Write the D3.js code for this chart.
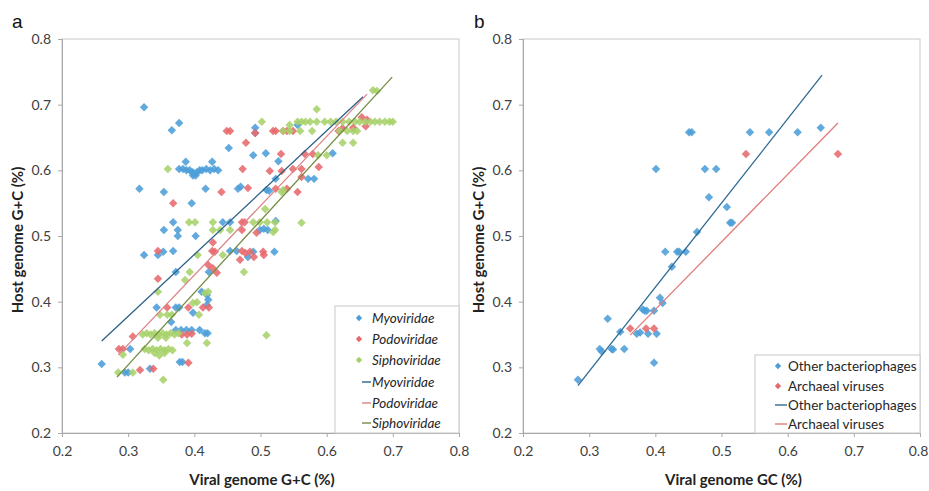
<!DOCTYPE html>
<html>
<head>
<meta charset="utf-8">
<script src="https://cdn.jsdelivr.net/npm/d3@7"></script>
<style>
  html, body { margin: 0; padding: 0; background: #fff; }
  svg { display: block; font-family: Lato, "Open Sans", sans-serif; }
</style>
</head>
<body>
<svg id="chart" width="929" height="491"></svg>
<script>
// ---------- DATA ----------
const tickValues = [0.2, 0.3, 0.4, 0.5, 0.6, 0.7, 0.8];

// Panel a – scatter points [viral G+C, host G+C]
const myoviridae = [
  [0.324,0.696],[0.366,0.661],[0.377,0.672],[0.452,0.634],[0.492,0.665],[0.492,0.657],[0.317,0.572],[0.354,0.567],
  [0.417,0.572],[0.396,0.550],[0.368,0.521],[0.354,0.509],[0.375,0.509],[0.375,0.500],[0.402,0.500],
  [0.377,0.602],[0.383,0.602],[0.388,0.600],[0.393,0.600],[0.397,0.597],[0.400,0.595],[0.404,0.597],
  [0.408,0.600],[0.412,0.600],[0.418,0.602],[0.424,0.600],[0.430,0.602],[0.436,0.600],[0.387,0.613],
  [0.427,0.613],[0.402,0.592],[0.398,0.592],
  [0.466,0.572],[0.470,0.575],[0.489,0.623],[0.508,0.626],[0.527,0.614],[0.523,0.587],[0.509,0.570],
  [0.513,0.569],[0.443,0.521],[0.454,0.521],[0.499,0.509],[0.505,0.511],[0.511,0.509],[0.523,0.523],
  [0.609,0.626],[0.572,0.587],[0.581,0.587],[0.556,0.669],
  [0.324,0.471],[0.345,0.471],[0.353,0.476],[0.368,0.477],[0.372,0.445],[0.343,0.391],[0.372,0.391],
  [0.377,0.391],[0.365,0.369],[0.398,0.383],[0.411,0.415],[0.419,0.410],[0.421,0.403],[0.419,0.395],
  [0.372,0.357],[0.380,0.357],[0.388,0.357],[0.396,0.357],[0.408,0.357],[0.416,0.352],[0.420,0.352],
  [0.378,0.308],[0.382,0.308],[0.260,0.305],[0.295,0.292],[0.300,0.292],[0.303,0.328],[0.333,0.298],
  [0.422,0.445],[0.454,0.477],[0.464,0.477],[0.481,0.468],[0.489,0.476],[0.521,0.476]
];
const podoviridae = [
  [0.449,0.660],[0.454,0.660],[0.492,0.657],[0.478,0.642],[0.519,0.660],[0.523,0.660],[0.534,0.660],
  [0.540,0.660],[0.549,0.660],[0.531,0.625],[0.514,0.599],[0.532,0.599],[0.473,0.602],[0.549,0.602],
  [0.562,0.590],[0.588,0.605],[0.567,0.625],[0.579,0.625],[0.562,0.602],[0.441,0.567],[0.481,0.573],
  [0.523,0.572],[0.540,0.572],[0.556,0.567],[0.368,0.550],[0.472,0.521],[0.476,0.521],[0.472,0.509],
  [0.494,0.505],[0.428,0.490],[0.618,0.660],[0.624,0.664],[0.653,0.681],[0.659,0.667],[0.661,0.677],
  [0.640,0.665],
  [0.345,0.477],[0.345,0.435],[0.427,0.477],[0.431,0.476],[0.421,0.456],[0.428,0.451],[0.434,0.444],
  [0.469,0.464],[0.472,0.477],[0.477,0.474],[0.484,0.476],[0.490,0.468],[0.504,0.476],[0.505,0.471],
  [0.359,0.391],[0.391,0.391],[0.413,0.391],[0.422,0.391],[0.307,0.347],[0.286,0.328],[0.292,0.328],
  [0.318,0.296],[0.338,0.298],[0.391,0.307],[0.381,0.350],[0.389,0.350],[0.396,0.351]
];
const siphoviridae = [
  [0.670,0.722],[0.676,0.721],[0.585,0.693],[0.502,0.674],
  [0.556,0.674],[0.562,0.674],[0.568,0.674],[0.575,0.674],[0.585,0.674],[0.597,0.674],[0.606,0.674],
  [0.614,0.674],[0.624,0.674],[0.634,0.674],[0.643,0.674],[0.650,0.674],[0.658,0.674],[0.666,0.674],
  [0.673,0.674],[0.680,0.674],[0.688,0.674],[0.695,0.674],[0.700,0.674],
  [0.534,0.660],[0.544,0.660],[0.560,0.660],[0.578,0.660],[0.620,0.660],[0.631,0.660],[0.640,0.660],
  [0.646,0.660],[0.544,0.669],[0.624,0.642],[0.640,0.642],[0.587,0.623],[0.600,0.623],[0.534,0.570],
  [0.360,0.602],[0.392,0.521],[0.401,0.521],[0.428,0.521],[0.428,0.509],[0.439,0.509],[0.454,0.509],
  [0.489,0.521],[0.499,0.521],[0.510,0.521],[0.522,0.521],[0.522,0.509],[0.507,0.541],[0.532,0.567],
  [0.562,0.520],[0.519,0.506],
  [0.405,0.471],[0.443,0.471],[0.475,0.445],[0.393,0.445],[0.386,0.433],[0.345,0.415],[0.404,0.399],
  [0.421,0.415],[0.416,0.413],[0.398,0.398],[0.407,0.380],[0.348,0.380],[0.359,0.380],[0.366,0.380],
  [0.322,0.350],[0.328,0.352],[0.334,0.350],[0.340,0.352],[0.346,0.350],[0.352,0.352],[0.358,0.350],
  [0.364,0.352],[0.370,0.350],[0.376,0.352],[0.345,0.345],[0.357,0.345],
  [0.325,0.328],[0.331,0.326],[0.337,0.328],[0.343,0.326],[0.349,0.328],[0.355,0.326],[0.361,0.328],
  [0.367,0.326],[0.340,0.322],[0.355,0.322],
  [0.292,0.319],[0.285,0.292],[0.307,0.292],[0.353,0.281],[0.389,0.337],[0.419,0.337],[0.509,0.349],
  [0.347,0.318]
];
// Panel a – trend lines [x1,y1,x2,y2]
const myoLine  = [0.260, 0.340, 0.655, 0.712];
const podoLine = [0.285, 0.319, 0.661, 0.716];
const siphoLine = [0.283, 0.285, 0.699, 0.742];

// Panel b – scatter points
const otherPhages = [
  [0.283,0.281],[0.316,0.328],[0.319,0.324],[0.334,0.328],[0.336,0.327],[0.353,0.328],[0.328,0.374],
  [0.347,0.354],[0.381,0.388],[0.384,0.386],[0.387,0.386],[0.398,0.386],[0.407,0.406],[0.411,0.398],
  [0.372,0.351],[0.377,0.353],[0.389,0.351],[0.402,0.351],[0.398,0.307],[0.425,0.453],[0.415,0.476],
  [0.433,0.476],[0.436,0.476],[0.446,0.476],[0.463,0.506],[0.451,0.658],[0.455,0.658],[0.543,0.658],
  [0.572,0.658],[0.615,0.658],[0.650,0.665],[0.401,0.602],[0.475,0.602],[0.492,0.602],[0.481,0.559],
  [0.508,0.544],[0.513,0.520],[0.516,0.520]
];
const archaealViruses = [
  [0.362,0.359],[0.386,0.359],[0.398,0.359],[0.537,0.625],[0.676,0.625]
];
const otherLine = [0.283, 0.272, 0.652, 0.745];
const archLine  = [0.362, 0.349, 0.676, 0.672];

// ---------- STYLE ----------
const C = {
  blue: "#4C9ED8", red: "#E7696C", green: "#A7D26B",
  myoL: "#2D6185", podoL: "#DA8486", siphoL: "#748B42",
  otherL: "#2C6A93", archL: "#E07B7B"
};

const svg = d3.select("#chart");
const diamond = d3.symbol().type(d3.symbolSquare).size(36)();

function panel(opts) {
  const x = d3.scaleLinear().domain([0.2, 0.8]).range([opts.left, opts.right]);
  const y = d3.scaleLinear().domain([0.2, 0.8]).range([433, 39]);
  const g = svg.append("g");

  g.append("rect").attr("x", opts.left).attr("y", 39)
    .attr("width", opts.right - opts.left).attr("height", 433 - 39)
    .attr("fill", "none").attr("stroke", "#C8C8C8").attr("stroke-width", 1);

  const xa = g.append("g").attr("transform", "translate(0,433)")
    .call(d3.axisBottom(x).tickValues(tickValues).tickFormat(d3.format(".1f")).tickSizeOuter(0).tickSize(4).tickPadding(9));
  const ya = g.append("g").attr("transform", `translate(${opts.left},0)`)
    .call(d3.axisLeft(y).tickValues(tickValues).tickFormat(d3.format(".1f")).tickSizeOuter(0).tickSize(4).tickPadding(7));
  [xa, ya].forEach(a => {
    a.select(".domain").attr("stroke", "#A8A8A8");
    a.selectAll(".tick line").attr("stroke", "#A8A8A8");
    a.selectAll(".tick text").attr("fill", "#404040").style("font-size", "14px")
      .style("font-family", "Lato, 'Open Sans', sans-serif");
  });
  if (opts.lastTickShift) {
    xa.selectAll(".tick text").filter(d => d === 0.8).attr("dx", opts.lastTickShift);
  }

  opts.series.forEach(s => {
    g.append("g").selectAll("path").data(s.data).join("path")
      .attr("d", diamond)
      .attr("transform", d => `translate(${x(d[0])},${y(d[1])}) rotate(45)`)
      .attr("fill", s.color).attr("opacity", 0.88);
  });
  opts.lines.forEach(l => {
    g.append("line")
      .attr("x1", x(l.d[0])).attr("y1", y(l.d[1]))
      .attr("x2", x(l.d[2])).attr("y2", y(l.d[3]))
      .attr("stroke", l.color).attr("stroke-width", 1.3);
  });

  g.append("text").attr("x", (opts.left + opts.right) / 2 + opts.xLabelShift).attr("y", 485)
    .attr("text-anchor", "middle").style("font-size", "15px").style("font-weight", "bold")
    .attr("fill", "#222").text(opts.xLabel);
  g.append("text").attr("transform", `translate(${opts.yLabelX},240) rotate(-90)`)
    .attr("text-anchor", "middle").style("font-size", "15px").style("font-weight", "bold")
    .attr("fill", "#222").text("Host genome G+C (%)");
  g.append("text").attr("x", opts.letterX).attr("y", 28)
    .style("font-family", "'Liberation Sans', Arial, sans-serif").style("font-size", "19px")
    .attr("fill", "#111").text(opts.letter);

  const L = opts.legend;
  g.append("rect").attr("x", L.x).attr("y", L.y).attr("width", opts.right - L.x).attr("height", 433 - L.y)
    .attr("fill", "#fff").attr("stroke", "#C8C8C8");
  L.items.forEach((it, i) => {
    const cy = L.rows[i];
    if (it.type === "point") {
      g.append("path").attr("d", d3.symbol().type(d3.symbolSquare).size(20)())
        .attr("transform", `translate(${L.markX},${cy}) rotate(45)`).attr("fill", it.color);
    } else {
      g.append("line").attr("x1", L.lineX1).attr("x2", L.lineX2).attr("y1", cy).attr("y2", cy)
        .attr("stroke", it.color).attr("stroke-width", 1.4);
    }
    g.append("text").attr("x", L.textX).attr("y", cy).attr("dy", "0.35em")
      .style("font-size", "13.5px").style("font-style", L.italic ? "italic" : "normal")
      .attr("fill", "#262626").text(it.label);
  });
}

panel({
  left: 62, right: 459, letter: "a", letterX: 12, yLabelX: 23,
  xLabel: "Viral genome G+C (%)", xLabelShift: 1.5,
  series: [
    { data: myoviridae, color: C.blue },
    { data: podoviridae, color: C.red },
    { data: siphoviridae, color: C.green }
  ],
  lines: [
    { d: myoLine, color: C.myoL },
    { d: podoLine, color: C.podoL },
    { d: siphoLine, color: C.siphoL }
  ],
  legend: {
    x: 335, y: 306, markX: 359, lineX1: 362, lineX2: 371, textX: 372, italic: true,
    rows: [318, 339, 360, 382, 403, 423],
    items: [
      { type: "point", color: C.blue, label: "Myoviridae" },
      { type: "point", color: C.red, label: "Podoviridae" },
      { type: "point", color: C.green, label: "Siphoviridae" },
      { type: "line", color: C.myoL, label: "Myoviridae" },
      { type: "line", color: C.podoL, label: "Podoviridae" },
      { type: "line", color: C.siphoL, label: "Siphoviridae" }
    ]
  }
});

panel({
  left: 523, right: 920, letter: "b", letterX: 474, yLabelX: 484, lastTickShift: -2,
  xLabel: "Viral genome GC (%)", xLabelShift: 12,
  series: [
    { data: otherPhages, color: C.blue },
    { data: archaealViruses, color: C.red }
  ],
  lines: [
    { d: otherLine, color: C.otherL },
    { d: archLine, color: C.archL }
  ],
  legend: {
    x: 755, y: 355, markX: 778, lineX1: 775, lineX2: 787, textX: 788, italic: false,
    rows: [366, 386, 405, 424],
    items: [
      { type: "point", color: C.blue, label: "Other bacteriophages" },
      { type: "point", color: C.red, label: "Archaeal viruses" },
      { type: "line", color: C.otherL, label: "Other bacteriophages" },
      { type: "line", color: C.archL, label: "Archaeal viruses" }
    ]
  }
});
</script>
</body>
</html>
